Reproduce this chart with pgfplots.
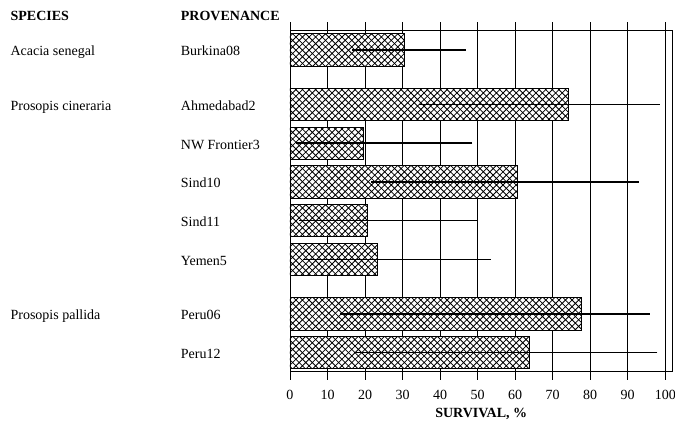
\documentclass[border=0pt]{standalone}
\usepackage{pgfplots}
\pgfplotsset{compat=1.18}
\usepackage{pgfplotstable}
\usetikzlibrary{patterns}
\usepackage{fontspec}
\setmainfont{Liberation Serif}

\pgfdeclarepatternformonly{dcross}{\pgfqpoint{-1pt}{-1pt}}{\pgfqpoint{7.6pt}{7.6pt}}{\pgfqpoint{6.6pt}{6.6pt}}{%
  \pgfsetlinewidth{0.8pt}%
  \pgfpathmoveto{\pgfqpoint{-0.1pt}{-0.1pt}}\pgfpathlineto{\pgfqpoint{6.7pt}{6.7pt}}%
  \pgfpathmoveto{\pgfqpoint{-0.1pt}{6.7pt}}\pgfpathlineto{\pgfqpoint{6.7pt}{-0.1pt}}%
  \pgfusepath{stroke}}

% position, mean survival, error plus, error minus
\pgfplotstableread{
pos v ep em
0   30.6 16.2 14.0
1.4 74.2 24.3 39.7
2.4 19.5 29.1 17.8
3.4 60.5 32.4 38.8
4.4 20.5 29.6 18.1
5.4 23.4 30.1 19.9
6.8 77.6 18.2 64.4
7.8 63.8 34.1 46.8
}\data

\newcommand{\lbl}{\fontsize{14bp}{17bp}\selectfont}

\begin{document}
\begin{tikzpicture}[font=\lbl]
\useasboundingbox (-290bp,-53.3bp) rectangle (385bp,371.7bp);
\begin{axis}[
  at={(0,0)}, anchor=south west,
  scale only axis,
  width=382.4bp, height=341.7bp,
  xmin=0, xmax=101.9,
  ymin=-0.515, ymax=8.29,
  y dir=reverse,
  xtick={0,10,...,100},
  xmajorgrids,
  major grid style={black, line width=0.8bp},
  tick align=outside,
  major tick length=8bp,
  xtick style={black, line width=0.8bp},
  ytick={0,1.4,2.4,3.4,4.4,5.4,6.8,7.8},
  yticklabels={
    {\makebox[170.3bp][l]{Acacia senegal}Burkina08},
    {\makebox[170.3bp][l]{Prosopis cineraria}Ahmedabad2},
    {\makebox[170.3bp][l]{}NW Frontier3},
    {\makebox[170.3bp][l]{}Sind10},
    {\makebox[170.3bp][l]{}Sind11},
    {\makebox[170.3bp][l]{}Yemen5},
    {\makebox[170.3bp][l]{Prosopis pallida}Peru06},
    {\makebox[170.3bp][l]{}Peru12}},
  ytick style={draw=none},
  yticklabel style={font=\lbl, anchor=base west, inner sep=0pt, xshift=-271.6bp, yshift=-6bp},
  /pgf/number format/assume math mode=true,
  xticklabel style={font=\lbl, yshift=-7bp},
  axis line style={black, line width=0.8bp},
  xlabel={\bfseries SURVIVAL, \%},
  xlabel style={font=\lbl, yshift=-2bp},
  clip=false,
]
\addplot[xbar, bar shift=0pt, bar width=0.83, draw=black, line width=0.8bp,
  fill=white, postaction={pattern=dcross},
  error bars/.cd, x dir=both, x explicit, error mark=none,
  error bar style={black, line width=1.3bp}]
  table[x=v, y=pos, x error plus=ep, x error minus=em] {\data};
\node[anchor=base west, inner sep=0pt, font=\lbl\bfseries]
  at ([xshift=-279.6bp, yshift=9.3bp]rel axis cs:0,1) {SPECIES};
\node[anchor=base west, inner sep=0pt, font=\lbl\bfseries]
  at ([xshift=-109.3bp, yshift=9.3bp]rel axis cs:0,1) {PROVENANCE};
\end{axis}
\end{tikzpicture}
\end{document}
